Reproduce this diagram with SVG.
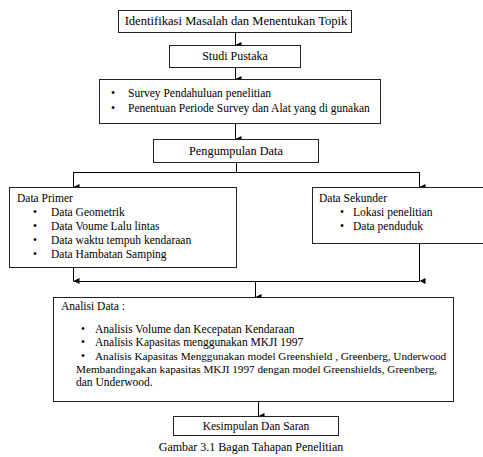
<svg xmlns="http://www.w3.org/2000/svg" width="483" height="457" viewBox="0 0 483 457">
<defs>
<marker id="ah" markerWidth="6" markerHeight="6" refX="3" refY="6" orient="auto-start-reverse" markerUnits="userSpaceOnUse" viewBox="0 0 6 6">
<path d="M0,0 L6,0 L3,6 Z" fill="#000"/>
</marker>
</defs>
<style>
.box{fill:#fff;stroke:#222;stroke-width:1}
.t{font-family:"Liberation Serif","Times New Roman",serif;font-size:11.5px;fill:#000}
.c{text-anchor:middle}
.ln{fill:none;stroke:#000;stroke-width:1}
.ar{fill:none;stroke:#000;stroke-width:1;marker-end:url(#ah)}
</style>
<rect width="483" height="457" fill="#fff"/>
<g id="connectors">
<line class="ar" x1="235.5" y1="32" x2="235.5" y2="45"/>
<line class="ar" x1="235.5" y1="67" x2="235.5" y2="79"/>
<line class="ar" x1="235.5" y1="123" x2="235.5" y2="139"/>
<polyline class="ln" points="236.5,162 236.5,172.5"/>
<polyline class="ln" points="73.5,172.5 419.5,172.5"/>
<line class="ar" x1="73.5" y1="172" x2="73.5" y2="187"/>
<line class="ar" x1="419.5" y1="172" x2="419.5" y2="187"/>
<line class="ar" x1="73.5" y1="267" x2="73.5" y2="281"/>
<line class="ar" x1="419.5" y1="243" x2="419.5" y2="281"/>
<polyline class="ln" points="73.5,281.5 419.5,281.5"/>
<line class="ar" x1="255.5" y1="281" x2="255.5" y2="297"/>
<line class="ar" x1="258.5" y1="401" x2="258.5" y2="416"/>
</g>
<g id="n1">
<rect class="box" x="118.5" y="10.5" width="233" height="22"/>
<text class="t c" x="236" y="25" style="font-size:12.6px">Identifikasi Masalah dan Menentukan Topik</text>
</g>
<g id="n2">
<rect class="box" x="169.5" y="45.5" width="131" height="22"/>
<text class="t c" x="235" y="60" style="font-size:12px">Studi Pustaka</text>
</g>
<g id="n3">
<rect class="box" x="99.5" y="79.5" width="281" height="44"/>
<text class="t" x="111" y="97">•</text>
<text class="t" x="128" y="97">Survey Pendahuluan penelitian</text>
<text class="t" x="111" y="112">•</text>
<text class="t" x="128" y="112">Penentuan Periode Survey dan Alat yang di gunakan</text>
</g>
<g id="n4">
<rect class="box" x="153.5" y="139.5" width="165" height="23"/>
<text class="t c" x="236" y="155" style="font-size:12.3px">Pengumpulan Data</text>
</g>
<g id="n5">
<rect class="box" x="9.5" y="187.5" width="227" height="80"/>
<text class="t" x="17" y="202">Data Primer</text>
<text class="t" x="33" y="216">•</text>
<text class="t" x="51" y="216">Data Geometrik</text>
<text class="t" x="33" y="230">•</text>
<text class="t" x="51" y="230">Data Voume Lalu lintas</text>
<text class="t" x="33" y="244">•</text>
<text class="t" x="51" y="244">Data waktu tempuh kendaraan</text>
<text class="t" x="33" y="258">•</text>
<text class="t" x="51" y="258">Data Hambatan Samping</text>
</g>
<g id="n6">
<rect class="box" x="312.5" y="187.5" width="180" height="56"/>
<text class="t" x="319" y="202">Data Sekunder</text>
<text class="t" x="340" y="216">•</text>
<text class="t" x="353" y="216">Lokasi penelitian</text>
<text class="t" x="340" y="230">•</text>
<text class="t" x="353" y="230">Data penduduk</text>
</g>
<g id="n7">
<rect class="box" x="53.5" y="297.5" width="400" height="104"/>
<text class="t" x="61" y="310">Analisi Data :</text>
<text class="t" x="81" y="333">•</text>
<text class="t" x="95" y="333">Analisis Volume dan Kecepatan Kendaraan</text>
<text class="t" x="81" y="346">•</text>
<text class="t" x="95" y="346">Analisis Kapasitas menggunakan MKJI 1997</text>
<text class="t" x="81" y="360">•</text>
<text class="t" x="95" y="360" style="font-size:11.2px">Analisis Kapasitas Menggunakan model Greenshield , Greenberg, Underwood</text>
<text class="t" x="76" y="373" style="font-size:11.2px">Membandingakan kapasitas MKJI 1997 dengan model Greenshields, Greenberg,</text>
<text class="t" x="76" y="386">dan Underwood.</text>
</g>
<g id="n8">
<rect class="box" x="173.5" y="416.5" width="165" height="19"/>
<text class="t c" x="256" y="430">Kesimpulan Dan Saran</text>
</g>
<text class="t c" x="251" y="451" style="font-size:12px">Gambar 3.1 Bagan Tahapan Penelitian</text>
</svg>
